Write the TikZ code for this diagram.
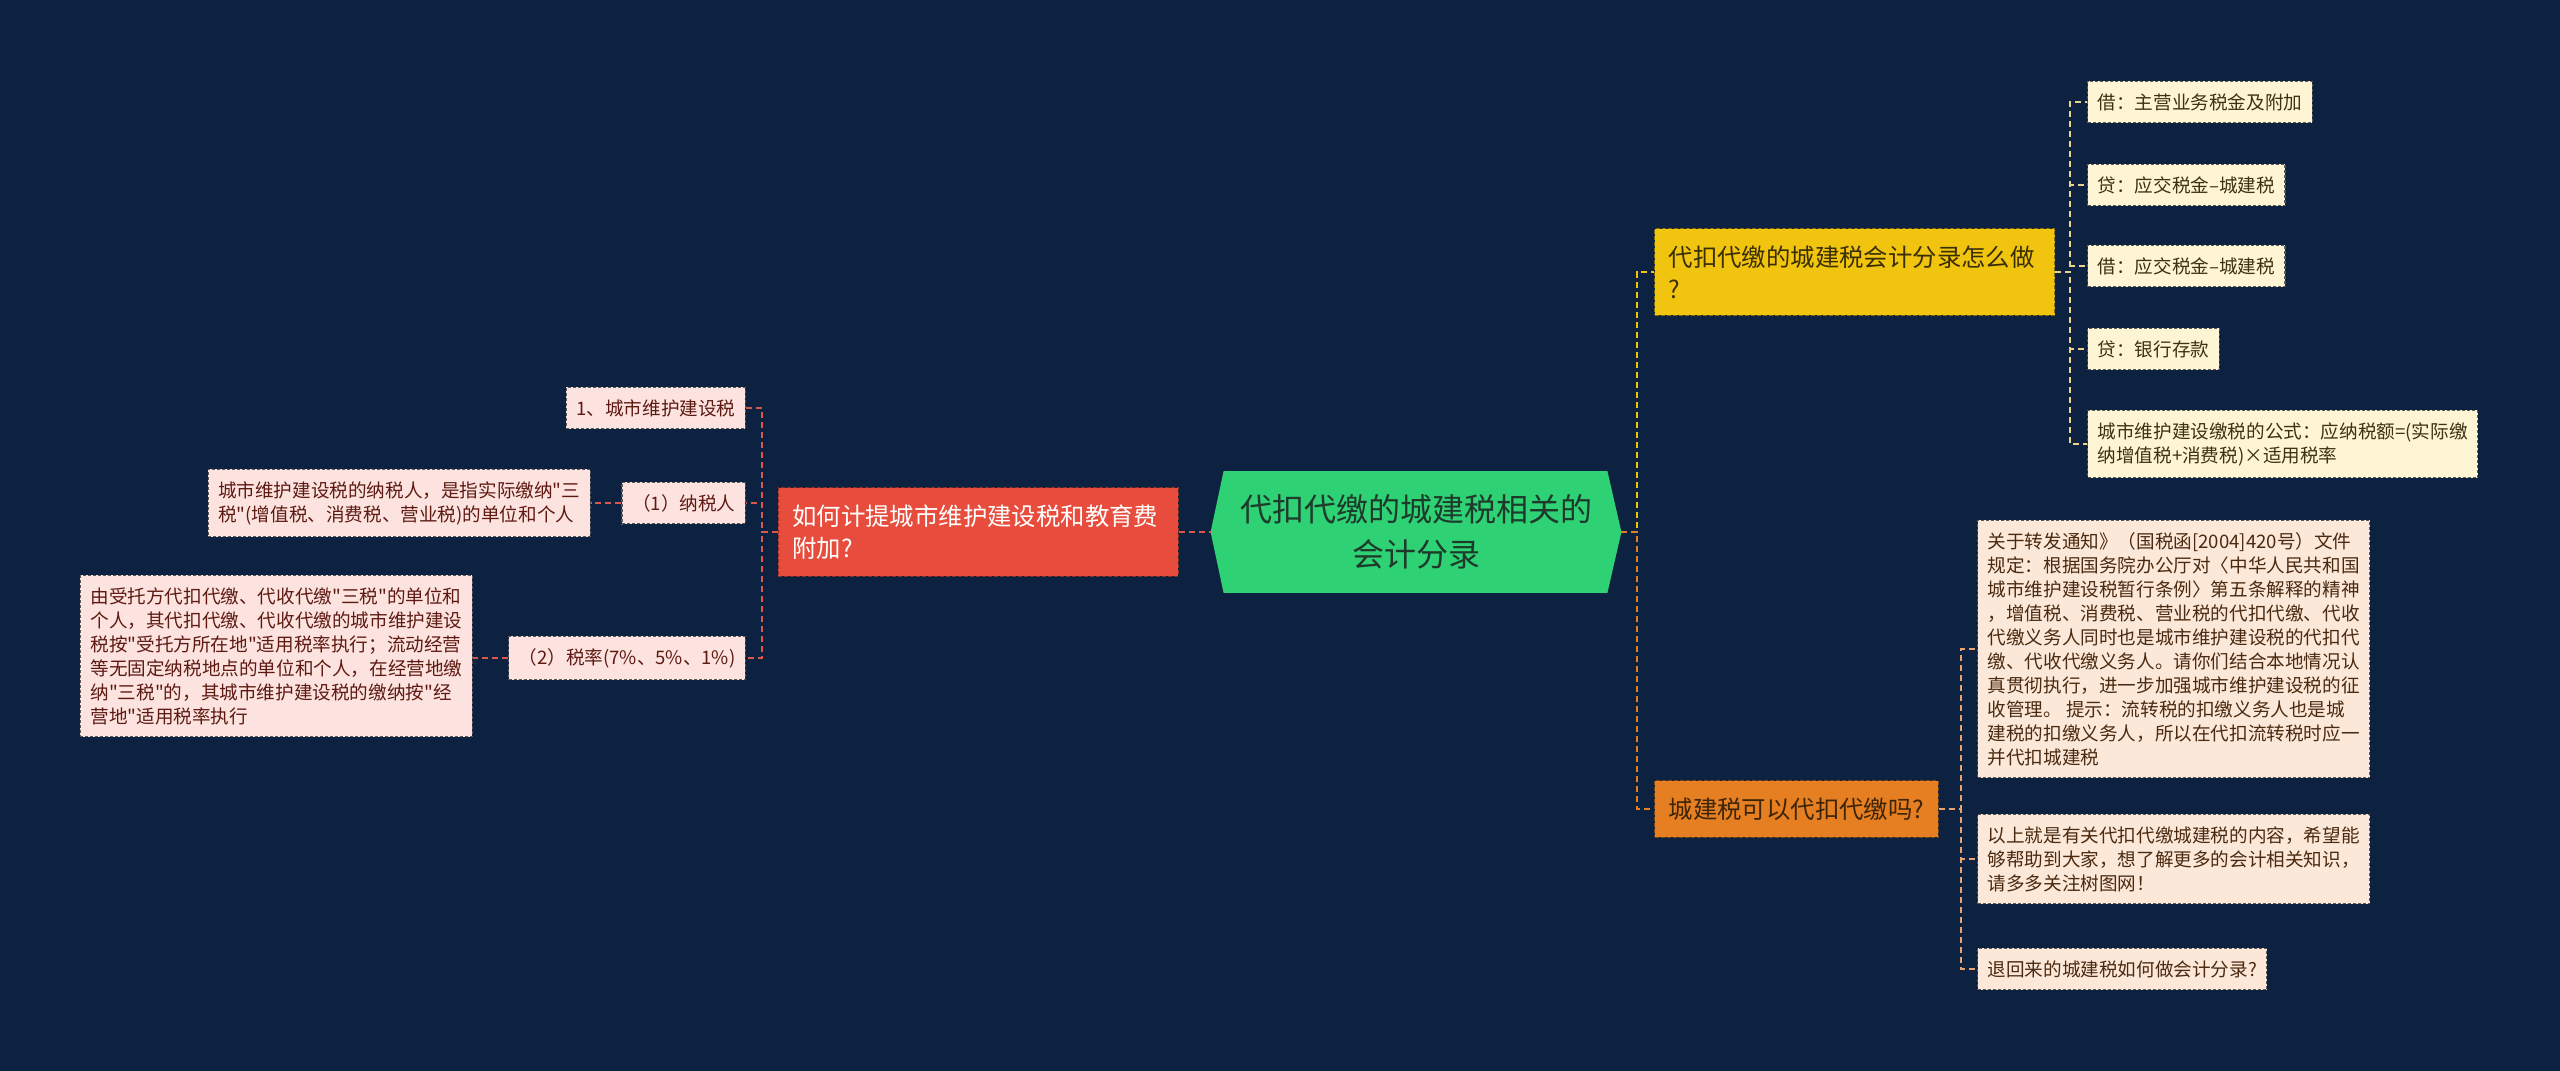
\documentclass[tikz,border=0pt]{standalone}
\usepackage{fontspec}
\newfontfamily\cjkf{Noto Sans CJK SC}
\pgfdeclarelayer{bg}
\pgfsetlayers{bg,main}
\definecolor{bgc}{HTML}{0D2240}
\definecolor{rootf}{HTML}{2FD175}
\definecolor{roott}{HTML}{1D3A2A}
\definecolor{redf}{HTML}{E74C3C}
\definecolor{yelf}{HTML}{F1C40F}
\definecolor{yelt}{HTML}{3A2E05}
\definecolor{orf}{HTML}{E67E22}
\definecolor{ort}{HTML}{3D2508}
\definecolor{pinkf}{HTML}{FCE3DF}
\definecolor{pinkt}{HTML}{5E1A12}
\definecolor{creamf}{HTML}{FEF5D4}
\definecolor{creamt}{HTML}{3E3210}
\definecolor{peachf}{HTML}{FCE8D9}
\definecolor{peacht}{HTML}{4A2A10}
\definecolor{redl}{HTML}{D9574B}
\definecolor{yell}{HTML}{F1C40F}
\definecolor{orl}{HTML}{E67E22}
\definecolor{yell2}{HTML}{E9D38A}
\definecolor{orl2}{HTML}{E8A46E}
\begin{document}
\begin{tikzpicture}[x=0.5pt,y=-0.5pt,
  leafbase/.style={rectangle, align=left, inner xsep=5pt, inner ysep=6pt,
    font={\cjkf\fontsize{9.3pt}{12pt}\selectfont}, line width=0.6pt,
    dash pattern=on 1.5pt off 1pt},
  pinkleaf/.style={leafbase, fill=pinkf, draw=black!65, text=pinkt},
  creamleaf/.style={leafbase, fill=creamf, draw=black!65, text=creamt},
  peachleaf/.style={leafbase, fill=peachf, draw=black!65, text=peacht},
  branch/.style={rectangle, align=left, inner xsep=7pt, inner ysep=8.5pt,
    font={\cjkf\fontsize{12.2pt}{16pt}\selectfont}, line width=0.7pt,
    dash pattern=on 2pt off 1pt},
  link/.style={line width=1pt, dash pattern=on 3pt off 2pt},
  redlink/.style={link, draw=redl},
  yellink/.style={link, draw=yell},
  orlink/.style={link, draw=orl},
  yellink2/.style={link, draw=yell2},
  orlink2/.style={link, draw=orl2}]
\begin{pgfonlayer}{bg}
\fill[bgc] (0,0) rectangle (2560,1071);
\end{pgfonlayer}
\useasboundingbox (0,0) rectangle (2560,1071);

% root
\node[font={\cjkf\fontsize{16pt}{22.5pt}\selectfont}, text=roott, align=center,
  minimum width=205pt, minimum height=60.5pt, inner sep=0pt] (root) at (1416,532)
  {代扣代缴的城建税相关的\\会计分录};
\begin{pgfonlayer}{bg}
\fill[rootf] (root.west) -- ([shift={(13,0)}]root.north west)
  -- ([shift={(-14,0)}]root.north east) -- (root.east)
  -- ([shift={(-14,0)}]root.south east) -- ([shift={(13,0)}]root.south west) -- cycle;
\end{pgfonlayer}

% left branch
\node[branch, text width=186pt, fill=redf, draw=redf!60!black, text=white, anchor=east]
  (red) at (1179,532) {如何计提城市维护建设税和教育费\\附加?};
\coordinate (lbar) at (762,532);
\node[pinkleaf, anchor=east] (l1) at (746,408) {1、城市维护建设税};
\node[pinkleaf, anchor=east] (l2) at (746,503) {（1）纳税人};
\node[pinkleaf, anchor=east] (l2a) at (591,503)
  {城市维护建设税的纳税人，是指实际缴纳"三\\税"(增值税、消费税、营业税)的单位和个人};
\node[pinkleaf, anchor=east] (l3) at (746,658) {（2）税率(7\%、5\%、1\%)};
\node[pinkleaf, anchor=east] (l3a) at (473,656)
  {由受托方代扣代缴、代收代缴"三税"的单位和\\个人，其代扣代缴、代收代缴的城市维护建设\\税按"受托方所在地"适用税率执行；流动经营\\等无固定纳税地点的单位和个人，在经营地缴\\纳"三税"的，其城市维护建设税的缴纳按"经\\营地"适用税率执行};

\draw[redlink] (red.east) -- (root.west);
\draw[redlink] (red.west) -- (lbar) |- (l1.east);
\draw[redlink] (red.west) -- (lbar) |- (l2.east);
\draw[redlink] (red.west) -- (lbar) |- (l3.east);
\draw[redlink] (l2.west) -- (l2a.east);
\draw[redlink] (l3.west) -- (l3.west -| l3a.east);

% right branches
\coordinate (rbar) at (1637,532);
\node[branch, text width=186pt, fill=yelf, draw=yelf!55!black, text=yelt, anchor=west]
  (yq) at (1654,272) {代扣代缴的城建税会计分录怎么做\\?};
\node[branch, fill=orf, draw=orf!55!black, text=ort, anchor=west]
  (oq) at (1654,809) {城建税可以代扣代缴吗?};
\draw[yellink] (root.east) -- (rbar) |- (yq.west);
\draw[orlink] (root.east) -- (rbar) |- (oq.west);

\coordinate (ybar) at (2070,272);
\node[creamleaf, anchor=west] (y1) at (2087,102) {借：主营业务税金及附加};
\node[creamleaf, anchor=west] (y2) at (2087,185) {贷：应交税金–城建税};
\node[creamleaf, anchor=west] (y3) at (2087,266) {借：应交税金–城建税};
\node[creamleaf, anchor=west] (y4) at (2087,349) {贷：银行存款};
\node[creamleaf, anchor=west] (y5) at (2087,444)
  {城市维护建设缴税的公式：应纳税额=(实际缴\\纳增值税+消费税)×适用税率};
\foreach \n in {y1,y2,y3,y4,y5}
  \draw[yellink2] (yq.east) -- (ybar) |- (\n.west);

\coordinate (obar) at (1961,809);
\node[peachleaf, anchor=west] (o1) at (1977,649)
  {关于转发通知》（国税函[2004]420号）文件\\规定：根据国务院办公厅对〈中华人民共和国\\城市维护建设税暂行条例〉第五条解释的精神\\，增值税、消费税、营业税的代扣代缴、代收\\代缴义务人同时也是城市维护建设税的代扣代\\缴、代收代缴义务人。请你们结合本地情况认\\真贯彻执行，进一步加强城市维护建设税的征\\收管理。 提示：流转税的扣缴义务人也是城\\建税的扣缴义务人，所以在代扣流转税时应一\\并代扣城建税};
\node[peachleaf, anchor=west] (o2) at (1977,859)
  {以上就是有关代扣代缴城建税的内容，希望能\\够帮助到大家，想了解更多的会计相关知识，\\请多多关注树图网！};
\node[peachleaf, anchor=west] (o3) at (1977,969) {退回来的城建税如何做会计分录?};
\foreach \n in {o1,o2,o3}
  \draw[orlink2] (oq.east) -- (obar) |- (\n.west);
\end{tikzpicture}
\end{document}
